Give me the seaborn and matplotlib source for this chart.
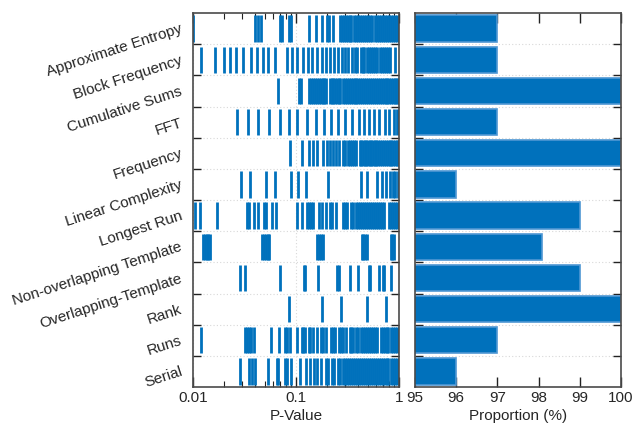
import numpy as np
import pandas as pd
import matplotlib
matplotlib.use("Agg")
import matplotlib.pyplot as plt
import seaborn as sns

BLUE = "#0071BC"

tests = ["Approximate Entropy", "Block Frequency", "Cumulative Sums", "FFT",
         "Frequency", "Linear Complexity", "Longest Run",
         "Non-overlapping Template", "Overlapping-Template", "Rank", "Runs", "Serial"]

proportion = [97, 97, 100, 97, 100, 96, 99, 98.08, 99, 100, 97, 96]

pv_approx_entropy = [0.0101, 0.0404, 0.0423, 0.0455, 0.0697, 0.0727, 0.0851, 0.0903,
                     0.1345, 0.1549, 0.1793, 0.2000, 0.2110, 0.2296, 0.2649, 0.2771,
                     0.2898, 0.3030, 0.3169, 0.3314, 0.344, 0.365, 0.38, 0.40, 0.42,
                     0.44, 0.46, 0.48, 0.50, 0.52, 0.55, 0.58, 0.61, 0.64, 0.67, 0.70,
                     0.73, 0.76, 0.80, 0.84, 0.88, 0.92, 0.96, 0.99]
pv_block_frequency = [0.01205, 0.01649, 0.02002, 0.02307, 0.02638, 0.03063, 0.03637,
                      0.04161, 0.04759, 0.05403, 0.06227, 0.08087, 0.09043, 0.1026,
                      0.1157, 0.1294, 0.1436, 0.1594, 0.1783, 0.1951, 0.2133, 0.2333,
                      0.2533, 0.2770, 0.3007, 0.3217, 0.3465, 0.3707, 0.3934, 0.424,
                      0.443, 0.46, 0.49, 0.51, 0.535, 0.56, 0.585, 0.61, 0.65, 0.68,
                      0.71, 0.745, 0.78, 0.82, 0.9145]
pv_cumulative_sums = [0.0671, 0.1066, 0.1115, 0.1343, 0.1404, 0.1469, 0.1536, 0.1606,
                      0.1680, 0.1744, 0.1810, 0.1879, 0.1951, 0.2133, 0.2214, 0.2298,
                      0.2403, 0.2495, 0.2590, 0.2689, 0.2876, 0.3007, 0.31, 0.325,
                      0.34, 0.355, 0.37, 0.385, 0.40, 0.42, 0.44, 0.46, 0.48, 0.50,
                      0.52, 0.545, 0.57, 0.595, 0.62, 0.65, 0.68, 0.71, 0.74, 0.77,
                      0.80, 0.835, 0.87, 0.905, 0.94, 0.97, 0.995]
pv_fft = [0.02698, 0.03451, 0.04318, 0.05526, 0.06963, 0.08520, 0.1034, 0.1265,
          0.1547, 0.1851, 0.2182, 0.2570, 0.3007, 0.3491, 0.4054, 0.4567, 0.5147,
          0.5756, 0.6438, 0.7311, 0.8054, 0.8941, 0.9491]
pv_frequency = [0.0865, 0.1131, 0.1323, 0.1458, 0.1583, 0.1810, 0.1980, 0.2117,
                0.2264, 0.2440, 0.2629, 0.2833, 0.302, 0.318, 0.333, 0.35, 0.365,
                0.383, 0.415, 0.43, 0.45, 0.465, 0.48, 0.50, 0.52, 0.535, 0.555,
                0.58, 0.60, 0.63, 0.66, 0.69, 0.72, 0.75, 0.78, 0.81, 0.845, 0.88,
                0.915, 0.95, 0.985]
pv_linear_complexity = [0.02951, 0.03610, 0.05167, 0.06227, 0.08844, 0.1057, 0.1237,
                        0.2025, 0.4240, 0.4848, 0.6068, 0.6785, 0.7475, 0.8178,
                        0.87, 0.92, 0.97]
pv_longest_run = [0.01054, 0.01161, 0.01724, 0.0335, 0.0348, 0.03919, 0.04255, 0.0485,
                  0.0508, 0.05909, 0.06367, 0.1034, 0.1140, 0.1285, 0.1343, 0.1404,
                  0.1469, 0.1667, 0.1769, 0.1936, 0.2133, 0.2231, 0.2457, 0.2833,
                  0.2962, 0.3097, 0.339, 0.355, 0.381, 0.40, 0.42, 0.44, 0.46, 0.48,
                  0.50, 0.52, 0.545, 0.57, 0.595, 0.62, 0.65, 0.68, 0.71, 0.80, 0.84,
                  0.88, 0.92, 0.96, 0.995]
pv_non_overlapping = [0.0126, 0.0131, 0.0136, 0.0141, 0.0145, 0.047, 0.049, 0.051,
                      0.053, 0.0548, 0.161, 0.167, 0.174, 0.181, 0.437, 0.452, 0.468,
                      0.484, 0.836, 0.862, 0.888]
pv_overlapping = [0.02885, 0.03228, 0.07068, 0.1183, 0.1219, 0.1619, 0.2477, 0.2595,
                  0.3314, 0.3963, 0.5070, 0.5226, 0.6345, 0.6937, 0.7201, 0.8299]
pv_rank = [0.0852, 0.1783, 0.2729, 0.4848, 0.7475]
pv_runs = [0.01205, 0.0323, 0.03376, 0.0353, 0.03692, 0.03919, 0.05734, 0.06808,
           0.07905, 0.08206, 0.08714, 0.1026, 0.1131, 0.1174, 0.1219, 0.1343, 0.138,
           0.1469, 0.1594, 0.1744, 0.1838, 0.1951, 0.2177, 0.2264, 0.2368, 0.2600,
           0.2729, 0.2854, 0.305, 0.3314, 0.344, 0.355, 0.381, 0.403, 0.424, 0.445,
           0.465, 0.49, 0.51, 0.54, 0.565, 0.59, 0.615, 0.67, 0.70, 0.73, 0.76, 0.79,
           0.83, 0.87, 0.91, 0.95, 0.99]
pv_serial = [0.02885, 0.03504, 0.03747, 0.04008, 0.05362, 0.06511, 0.06759, 0.07846,
             0.08267, 0.08910, 0.1090, 0.1256, 0.1363, 0.148, 0.1583, 0.1744, 0.1936,
             0.2034, 0.225, 0.236, 0.258, 0.27, 0.283, 0.296, 0.31, 0.325, 0.344,
             0.36, 0.375, 0.39, 0.41, 0.43, 0.45, 0.47, 0.49, 0.51, 0.535, 0.56,
             0.585, 0.61, 0.64, 0.67, 0.70, 0.73, 0.76, 0.79, 0.83, 0.87, 0.91, 0.95,
             0.99]

pvalues = [pv_approx_entropy, pv_block_frequency, pv_cumulative_sums, pv_fft,
           pv_frequency, pv_linear_complexity, pv_longest_run, pv_non_overlapping,
           pv_overlapping, pv_rank, pv_runs, pv_serial]

x_ticks_left = [0.01, 0.1, 1]
x_ticklabels_left = ["0.01", "0.1", "1"]
x_ticks_right = [95, 96, 97, 98, 99, 100]

sns.set_theme(style="white")
plt.rcParams["font.family"] = ["Liberation Sans", "DejaVu Sans"]

W, H = 644, 423
fig = plt.figure(figsize=(W / 100, H / 100), dpi=100)
ax1 = fig.add_axes([193 / W, 1 - 387 / H, 206 / W, 374 / H])
ax2 = fig.add_axes([415 / W, 1 - 387 / H, 206 / W, 374 / H])

# ---- left panel: p-values ----
long = pd.DataFrame([(t, p) for t, ps in zip(tests, pvalues) for p in ps],
                    columns=["test", "p"])
long["row"] = long["test"].map({t: i for i, t in enumerate(tests)})
ax1.vlines(long["p"], long["row"] - 0.42, long["row"] + 0.42, color=BLUE, lw=2.0)
ax1.set_xscale("log")
ax1.set_xlim(0.01, 1)
ax1.set_ylim(len(tests) - 0.5, -0.5)
ax1.set_xticks(x_ticks_left)
ax1.set_xticklabels(x_ticklabels_left)
ax1.set_yticks(range(len(tests)))
ax1.set_yticklabels(tests, rotation=18, ha="right", va="center", rotation_mode="anchor")
ax1.tick_params(axis="y", which="major", length=0, pad=8, labelsize=11)
ax1.set_yticks(np.arange(0.5, len(tests) - 1, 1), minor=True)
ax1.tick_params(axis="y", which="minor", direction="in", length=6, width=1,
                left=True, right=True, color="#222222")
ax1.tick_params(axis="x", which="major", direction="in", length=7, width=1, pad=3,
                bottom=True, top=True, labelsize=11, color="#222222")
ax1.tick_params(axis="x", which="minor", direction="in", length=4, width=0.8,
                bottom=True, top=True, color="#222222")
ax1.grid(axis="y", which="minor", ls=(0, (1, 2)), color="#d8d8d8", lw=0.8)
ax1.grid(axis="x", which="major", ls=(0, (1, 2)), color="#d8d8d8", lw=0.8)
ax1.set_axisbelow(True)
ax1.set_xlabel("P-Value", fontsize=11, labelpad=3)
ax1.set_ylabel("")

# ---- right panel: proportions ----
dfp = pd.DataFrame({"test": tests, "proportion": proportion})
sns.barplot(data=dfp, x="proportion", y="test", orient="h", color=BLUE,
            saturation=1, width=0.84, edgecolor="#4f97d3", linewidth=1.2, ax=ax2)
ax2.set_xlim(95, 100)
ax2.set_ylim(len(tests) - 0.5, -0.5)
ax2.set_xticks(x_ticks_right)
ax2.set_yticks([])
ax2.set_yticks(np.arange(0.5, len(tests) - 1, 1), minor=True)
ax2.tick_params(axis="y", which="minor", direction="in", length=6, width=1,
                left=True, right=True, color="#222222")
ax2.tick_params(axis="x", which="major", direction="in", length=7, width=1, pad=3,
                bottom=True, top=True, labelsize=11, color="#222222")
ax2.grid(axis="y", which="minor", ls=(0, (1, 2)), color="#d8d8d8", lw=0.8)
ax2.set_axisbelow(True)
ax2.set_xlabel("Proportion (%)", fontsize=11, labelpad=3)
ax2.set_ylabel("")

for ax in (ax1, ax2):
    for s in ax.spines.values():
        s.set_visible(True)
        s.set_color("#4a4a4a")
        s.set_linewidth(1.2)

fig.savefig("out.png", dpi=100)
